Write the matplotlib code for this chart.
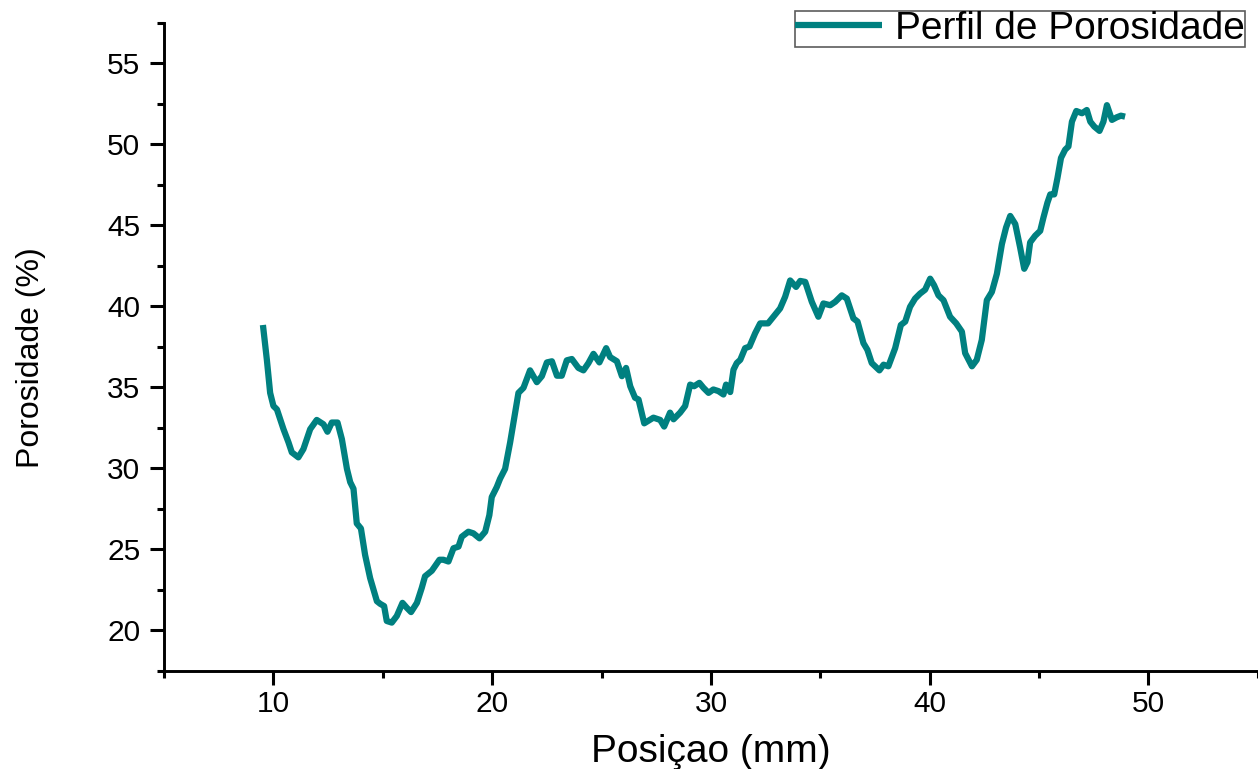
import numpy as np
import matplotlib
matplotlib.use('Agg')
from matplotlib import pyplot as plt
from matplotlib.ticker import MultipleLocator

# porosity profile
posicao = [9.52, 9.70, 9.85, 10.00, 10.16, 10.46, 10.69, 10.84, 11.14, 11.37,
           11.68, 11.98, 12.29, 12.47, 12.67, 12.93, 13.13, 13.36, 13.51, 13.66,
           13.81, 14.00, 14.19, 14.42, 14.73, 14.88, 15.06, 15.18, 15.41, 15.64,
           15.90, 16.10, 16.29, 16.56, 16.78, 16.93, 17.24, 17.59, 17.77, 18.00,
           18.23, 18.46, 18.61, 18.91, 19.14, 19.42, 19.68, 19.87, 19.98, 20.21,
           20.36, 20.59, 20.82, 21.05, 21.20, 21.43, 21.73, 22.04, 22.27, 22.50,
           22.73, 22.96, 23.18, 23.41, 23.64, 23.94, 24.17, 24.40, 24.63, 24.90,
           25.21, 25.39, 25.70, 25.93, 26.12, 26.31, 26.53, 26.69, 26.95, 27.37,
           27.68, 27.86, 28.13, 28.29, 28.59, 28.82, 29.05, 29.23, 29.47, 29.66,
           29.89, 30.11, 30.34, 30.57, 30.69, 30.88, 31.03, 31.18, 31.34, 31.56,
           31.76, 32.02, 32.25, 32.61, 33.16, 33.39, 33.62, 33.89, 34.08, 34.31,
           34.61, 34.91, 35.14, 35.45, 35.68, 35.98, 36.21, 36.51, 36.70, 36.97,
           37.15, 37.35, 37.70, 37.89, 38.11, 38.42, 38.68, 38.88, 39.10, 39.33,
           39.56, 39.79, 40.02, 40.20, 40.40, 40.63, 40.93, 41.21, 41.47, 41.62,
           41.93, 42.15, 42.38, 42.61, 42.84, 43.07, 43.30, 43.49, 43.68, 43.91,
           44.13, 44.32, 44.47, 44.59, 44.82, 45.05, 45.20, 45.38, 45.51, 45.69,
           45.84, 46.00, 46.19, 46.34, 46.50, 46.70, 46.96, 47.18, 47.34, 47.52,
           47.76, 47.94, 48.10, 48.33, 48.55, 48.74, 48.93]
porosidade = [38.84, 36.69, 34.65, 33.84, 33.63, 32.41, 31.59, 30.98, 30.67, 31.18,
              32.41, 32.98, 32.71, 32.25, 32.82, 32.82, 31.79, 29.96, 29.14, 28.73,
              26.59, 26.28, 24.65, 23.22, 21.79, 21.63, 21.49, 20.57, 20.47, 20.88,
              21.69, 21.38, 21.12, 21.69, 22.61, 23.33, 23.67, 24.35, 24.35, 24.24,
              25.06, 25.16, 25.77, 26.08, 25.98, 25.67, 26.08, 27.10, 28.22, 28.84,
              29.35, 29.96, 31.59, 33.43, 34.65, 34.96, 36.04, 35.31, 35.68, 36.53,
              36.60, 35.71, 35.71, 36.66, 36.74, 36.19, 36.04, 36.49, 37.06, 36.53,
              37.41, 36.86, 36.60, 35.68, 36.19, 35.06, 34.35, 34.24, 32.77, 33.12,
              32.98, 32.57, 33.43, 33.02, 33.43, 33.84, 35.16, 35.06, 35.27, 34.96,
              34.65, 34.86, 34.76, 34.55, 35.16, 34.70, 36.08, 36.49, 36.69, 37.41,
              37.51, 38.33, 38.94, 38.94, 39.86, 40.58, 41.59, 41.19, 41.56, 41.50,
              40.27, 39.35, 40.17, 40.06, 40.27, 40.67, 40.47, 39.25, 39.05, 37.72,
              37.31, 36.49, 36.04, 36.39, 36.29, 37.41, 38.84, 39.05, 39.96, 40.47,
              40.78, 41.02, 41.70, 41.29, 40.67, 40.37, 39.35, 38.94, 38.43, 37.10,
              36.29, 36.69, 37.92, 40.37, 40.88, 42.00, 43.84, 44.86, 45.57, 45.07,
              43.64, 42.31, 42.72, 43.94, 44.35, 44.65, 45.48, 46.39, 46.90, 46.90,
              47.92, 49.15, 49.66, 49.86, 51.39, 52.05, 51.91, 52.11, 51.39, 51.09,
              50.82, 51.39, 52.41, 51.50, 51.66, 51.76, 51.70]

plt.rcParams['font.family'] = ['Liberation Sans', 'DejaVu Sans']

fig = plt.figure(figsize=(12.58, 7.69), dpi=100)
ax = fig.add_axes([0.1304, 0.1278, 0.8695, 0.8427])

ax.plot(posicao, porosidade, color='#008080', lw=4.5,
        solid_joinstyle='round', solid_capstyle='butt',
        label='Perfil de Porosidade')

ax.set_xlim(5, 55)
ax.set_ylim(17.5, 57.5)
ax.xaxis.set_major_locator(MultipleLocator(10))
ax.xaxis.set_minor_locator(MultipleLocator(5))
ax.yaxis.set_major_locator(MultipleLocator(5))
ax.yaxis.set_minor_locator(MultipleLocator(2.5))

for s in ['top', 'right']:
    ax.spines[s].set_visible(False)
for s in ['left', 'bottom']:
    ax.spines[s].set_linewidth(2.1)

ax.tick_params(which='major', direction='out', length=10, width=2.2,
               labelsize=21.5)
ax.tick_params(which='minor', direction='out', length=5, width=2.2)
ax.tick_params(axis='x', which='major', pad=4)
ax.tick_params(axis='y', which='major', pad=7)

ax.set_xlabel('Posiçao (mm)', fontsize=28)
ax.set_ylabel('Porosidade (%)', fontsize=23)
ax.xaxis.set_label_coords(0.5, -0.097)
ax.yaxis.set_label_coords(-0.108, 0.483)

leg = ax.legend(loc='upper left', bbox_to_anchor=(795/1258, 1 - 11/769),
                bbox_transform=fig.transFigure, fontsize=28, frameon=True,
                fancybox=False, borderpad=0.0, handlelength=2.25,
                handletextpad=0.33, borderaxespad=0)
leg.get_frame().set_edgecolor('#333333')
leg.get_frame().set_linewidth(1.2)

fig.savefig('out.png', dpi=100)
